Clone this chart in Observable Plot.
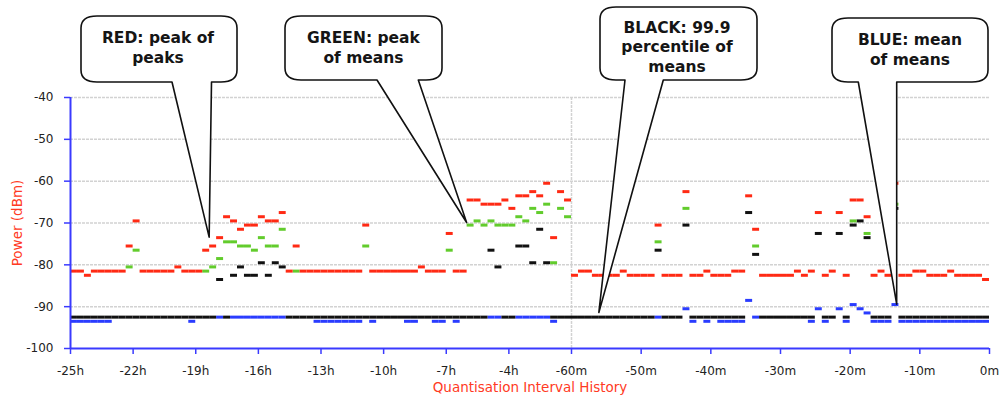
<!DOCTYPE html>
<html>
<head>
<meta charset="utf-8">
<script src="https://cdn.jsdelivr.net/npm/d3@7"></script>
<script src="https://cdn.jsdelivr.net/npm/@observablehq/plot@0.6"></script>
<style>
  html, body { margin: 0; padding: 0; background: #fff; }
</style>
</head>
<body>
<div id="chart"></div>
<script>
const _ = null;

// ---- time grid (minutes before now): 20-minute bins from -25h to -1h, then 1-minute bins over the last hour
const hourBinStarts = d3.range(-1500, -60, 20);   // 72 bins
const minuteBinStarts = d3.range(-60, 0, 1);      // 60 bins

// ---- RED: peak of peaks (dBm)
const redHours = [
  -81.5,-81.5,-82.5,-81.5,-81.5,-81.5,-81.5,-81.5,-75.5,-69.5,
  -81.5,-81.5,-81.5,-81.5,-81.5,-80.5,-81.5,-81.5,-81.5,-76.5,
  -75.5,-73.5,-68.5,-69.5,-71.5,-70.5,-70.5,-68.5,-69.5,-69.5,
  -67.5,-81.5,-75.5,-81.5,-81.5,-81.5,-81.5,-81.5,-81.5,-81.5,
  -81.5,-81.5,-70.5,-81.5,-81.5,-81.5,-81.5,-81.5,-81.5,-81.5,
  -80.5,-81.5,-81.5,-81.5,-72.5,-81.5,-81.5,-64.5,-64.5,-65.5,
  -65.5,-65.5,-64.5,-66.5,-63.5,-63.5,-62.5,-63.5,-60.5,-73.5,
  -62.5,-64.5
];
const redMinutes = [
  -82.5,-81.5,-81.5,-82.5,-82.5,-82.5,-82.5,-81.5,-82.5,-82.5,
  -82.5,-82.5,-70.5,-82.5,-82.5,-82.5,-62.5,-82.5,-82.5,-81.5,
  -82.5,-82.5,-82.5,-81.5,-81.5,-63.5,-71.5,-82.5,-82.5,-82.5,
  -82.5,-82.5,-81.5,-82.5,-81.5,-67.5,-82.5,-81.5,-67.5,-82.5,
  -64.5,-64.5,-68.5,-82.5,-81.5,-82.5,-60.5,-82.5,-82.5,-81.5,
  -81.5,-82.5,-82.5,-82.5,-81.5,-82.5,-82.5,-82.5,-82.5,-83.5
];

// ---- GREEN: peak of means (null = not visible)
const greenHours = [
  _,_,_,_,_,_,_,_,-80.5,-76.5,
  _,_,_,_,_,_,_,_,_,-81.5,
  -80.5,-78.5,-74.5,-74.5,-75.5,-75.5,-76.5,-73.5,-75.5,-75.5,
  -71.5,_,-81.5,_,_,_,_,_,_,_,
  _,_,-75.5,_,_,_,_,_,_,_,
  _,_,_,_,-76.5,_,_,-70.5,-69.5,-70.5,
  -69.5,-70.5,-70.5,-70.5,-68.5,-69.5,-66.5,-67.5,-65.5,-79.5,
  -66.5,-68.5
];
const greenMinutes = [
  _,_,_,_,_,_,_,_,_,_,
  _,_,-74.5,_,_,_,-66.5,_,_,_,
  _,_,_,_,_,_,-75.5,_,_,_,
  _,_,_,_,_,_,_,_,_,_,
  -69.5,_,-72.5,_,_,_,-65.5,_,_,_,
  _,_,_,_,_,_,_,_,_,_
];

// ---- BLACK: 99.9 percentile of means
const blackHours = [
  -92.5,-92.5,-92.5,-92.5,-92.5,-92.5,-92.5,-92.5,-92.5,-92.5,
  -92.5,-92.5,-92.5,-92.5,-92.5,-92.5,-92.5,-92.5,-92.5,-92.5,
  -92.5,-83.5,-92.5,-82.5,-80.5,-82.5,-82.5,-79.5,-82.5,-79.5,
  -80.5,-92.5,-92.5,-92.5,-92.5,-92.5,-92.5,-92.5,-92.5,-92.5,
  -92.5,-92.5,-92.5,-92.5,-92.5,-92.5,-92.5,-92.5,-92.5,-92.5,
  -92.5,-92.5,-92.5,-92.5,-92.5,-92.5,-92.5,-92.5,-92.5,-92.5,
  -76.5,-80.5,-92.5,-92.5,-75.5,-75.5,-79.5,-71.5,-79.5,-92.5,
  -92.5,-92.5
];
const blackMinutes = [
  -92.5,-92.5,-92.5,-92.5,-92.5,-92.5,-92.5,-92.5,-92.5,-92.5,
  -92.5,-92.5,-76.5,-92.5,-92.5,-92.5,-70.5,-92.5,-92.5,-92.5,
  -92.5,-92.5,-92.5,-92.5,-92.5,-67.5,-77.5,-92.5,-92.5,-92.5,
  -92.5,-92.5,-92.5,-92.5,-92.5,-72.5,-92.5,-92.5,-72.5,-92.5,
  -70.5,-69.5,-73.5,-92.5,-92.5,-92.5,-66.5,-92.5,-92.5,-92.5,
  -92.5,-92.5,-92.5,-92.5,-92.5,-92.5,-92.5,-92.5,-92.5,-92.5
];

// ---- BLUE: mean of means (null = hidden under black)
const blueHours = [
  -93.5,-93.5,-93.5,-93.5,-93.5,-93.5,_,_,_,_,
  _,_,_,_,_,_,_,-93.5,_,_,
  _,-92.5,_,-92.5,-92.5,-92.5,-92.5,-92.5,-92.5,-92.5,
  -92.5,_,_,_,_,-93.5,-93.5,-93.5,-93.5,-93.5,
  -93.5,-93.5,_,-93.5,_,_,_,_,-93.5,-93.5,
  _,_,-93.5,-93.5,_,-93.5,_,_,_,_,
  -92.5,-92.5,_,_,-92.5,-92.5,-92.5,-92.5,-92.5,-93.5,
  _,_
];
const blueMinutes = [
  _,_,_,_,_,_,_,_,_,_,
  _,_,-92.5,_,_,_,-90.5,-93.5,_,-93.5,
  _,-93.5,-93.5,-93.5,-93.5,-88.5,-92.5,_,_,_,
  _,_,_,_,-93.5,-90.5,-93.5,_,-90.5,-93.5,
  -89.5,-90.5,-91.5,-93.5,-93.5,-93.5,-89.5,-93.5,-93.5,-93.5,
  -93.5,-93.5,-93.5,-93.5,-93.5,-93.5,-93.5,-93.5,-93.5,-93.5
];

// ---- axes
const xTicks = [-1500,-1320,-1140,-960,-780,-600,-420,-240,-60,-50,-40,-30,-20,-10,0];
const xTickLabels = ["-25h","-22h","-19h","-16h","-13h","-10h","-7h","-4h","-60m","-50m","-40m","-30m","-20m","-10m","0m"];
const yTicks = [-100,-90,-80,-70,-60,-50,-40];
const yTickLabels = ["-100","-90","-80","-70","-60","-50","-40"];
const xLabel = "Quantisation Interval History";
const yLabel = "Power (dBm)";

// ---- callouts
const calloutText = [
  ["RED: peak of", "peaks"],
  ["GREEN: peak", "of means"],
  ["BLACK: 99.9", "percentile of", "means"],
  ["BLUE: mean", "of means"]
];
const calloutTipTime = [-1100, -360, -56, -13.25];
const calloutTipPower = [-73.5, -70, -91.5, -89.5];

// ---------------------------------------------------------------
const bins = [
  ...hourBinStarts.map(s => [s, s + 20]),
  ...minuteBinStarts.map(s => [s, s + 1])
];
function rows(h, m) {
  return h.concat(m)
    .map((v, k) => ({x1: bins[k][0], x2: bins[k][1], v}))
    .filter(d => d.v != null);
}

const RED = "#ff2a14", GREEN = "#62cc2c", BLACK = "#111111", BLUE = "#2a3cff";
const AXIS = "#3a3aff", GRID = "#d2d2d2", LABEL_RED = "#ff3a24";

const chart = Plot.plot({
  width: 1002,
  height: 400,
  marginLeft: 70,
  marginRight: 13,
  marginTop: 97,
  marginBottom: 52,
  style: {background: "#fff", fontFamily: "DejaVu Sans, sans-serif"},
  x: {type: "linear", domain: [-1500, -60, 0], range: [70, 571, 989]},
  y: {type: "linear", domain: [-100, -40]},
  marks: [
    Plot.gridY({ticks: yTicks.filter(t => t > -100), stroke: GRID, strokeOpacity: 1, strokeWidth: 1.5, strokeDasharray: "3,1"}),
    Plot.ruleX([-60], {stroke: GRID, strokeOpacity: 1, strokeWidth: 1.5, strokeDasharray: "3,1"}),
    Plot.ruleY(rows(blueHours, blueMinutes), {x1: "x1", x2: "x2", y: "v", stroke: BLUE, strokeWidth: 3}),
    Plot.ruleY(rows(blackHours, blackMinutes), {x1: "x1", x2: "x2", y: "v", stroke: BLACK, strokeWidth: 3}),
    Plot.ruleY(rows(greenHours, greenMinutes), {x1: "x1", x2: "x2", y: "v", stroke: GREEN, strokeWidth: 3}),
    Plot.ruleY(rows(redHours, redMinutes), {x1: "x1", x2: "x2", y: "v", stroke: RED, strokeWidth: 3}),
    Plot.ruleX([-1500], {stroke: AXIS, strokeWidth: 2}),
    Plot.ruleY([-100], {stroke: AXIS, strokeWidth: 2}),
    Plot.axisY({
      ticks: yTicks, tickFormat: d => yTickLabels[yTicks.indexOf(d)],
      tickSize: 6, tickPadding: 11, stroke: AXIS, strokeWidth: 1.5,
      fill: "#222", fontSize: 12, label: null
    }),
    Plot.axisX({
      ticks: xTicks, tickFormat: d => xTickLabels[xTicks.indexOf(d)],
      tickSize: 6, tickPadding: 12, stroke: AXIS, strokeWidth: 1.5,
      fill: "#222", fontSize: 12, label: null
    }),
    Plot.text([yLabel], {text: d => d, frameAnchor: "left", rotate: -90, dx: -52.5, textAnchor: "middle", fill: LABEL_RED, fontSize: 13.5}),
    Plot.text([xLabel], {text: d => d, frameAnchor: "bottom", dy: 43, textAnchor: "middle", fill: LABEL_RED, fontSize: 13.5})
  ]
});

// ---- speech-bubble callouts, tails pointing at data through the chart scales
const layout = [
  {box: [81, 16, 237, 82], base: [172, 211.5], cx: 158, y0: 43.3},
  {box: [285, 16, 442, 80], base: [377, 418.3], cx: 363.5, y0: 43.3},
  {box: [600, 7, 757, 80], base: [625, 663.3], cx: 677, y0: 32.5},
  {box: [832, 18, 988, 82], base: [858.3, 896.7], cx: 910, y0: 45}
];
const sx = chart.scale("x"), sy = chart.scale("y");
const g = d3.select(chart).append("g").attr("class", "callouts");
layout.forEach((c, k) => {
  const [x0, y0, x1, y1] = c.box;
  const rx = 16, ry = 12;
  const tx = sx.apply(calloutTipTime[k]), ty = sy.apply(calloutTipPower[k]);
  const [bl, br] = c.base;
  const p = `M${x0 + rx},${y0} L${x1 - rx},${y0} Q${x1},${y0} ${x1},${y0 + ry} L${x1},${y1 - ry} Q${x1},${y1} ${x1 - rx},${y1}` +
            ` L${br},${y1} L${tx},${ty} L${bl},${y1} L${x0 + rx},${y1} Q${x0},${y1} ${x0},${y1 - ry} L${x0},${y0 + ry} Q${x0},${y0} ${x0 + rx},${y0} Z`;
  g.append("path").attr("d", p).attr("fill", "#fff").attr("stroke", "#111").attr("stroke-width", 1.6).attr("stroke-linejoin", "round");
  const t = g.append("text")
    .attr("text-anchor", "middle")
    .attr("font-family", "DejaVu Sans, sans-serif")
    .attr("font-weight", "bold")
    .attr("font-size", 15.5)
    .attr("fill", "#151515");
  calloutText[k].forEach((line, i) => {
    t.append("tspan").attr("x", c.cx).attr("y", c.y0 + i * 19.7).text(line);
  });
});

document.getElementById("chart").appendChild(chart);
</script>
</body>
</html>
